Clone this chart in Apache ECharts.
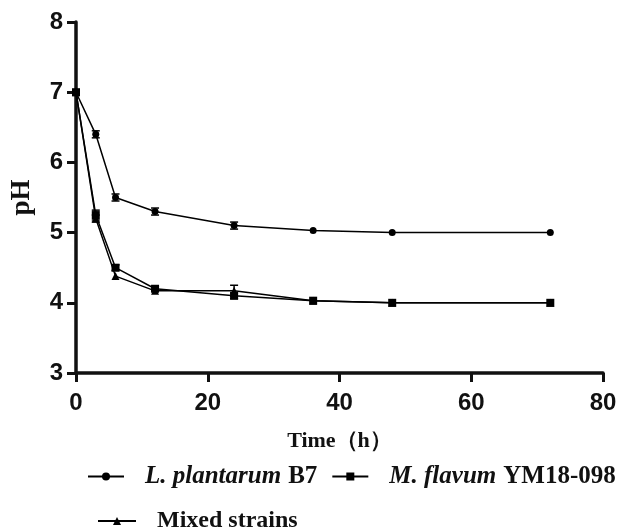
<!DOCTYPE html>
<html>
<head>
<meta charset="utf-8">
<script src="https://cdn.jsdelivr.net/npm/echarts@6/dist/echarts.min.js"></script>
<style>
  html, body { margin: 0; padding: 0; background: #fff; }
  #chart { width: 619px; height: 530px; }
</style>
</head>
<body>
<div id="chart"></div>
<script>
// sampling times (h)
const times = [0, 3, 6, 12, 24, 36, 48, 72]
// pH values
const plantarum = [7.0, 6.4, 5.5, 5.3, 5.1, 5.03, 5.0, 5.0]
const flavum = [7.0, 5.25, 4.5, 4.2, 4.1, 4.03, 4.0, 4.0]
const mixed = [7.0, 5.2, 4.38, 4.17, 4.17, 4.03, 4.0, 4.0]
// error bar half-widths
const plantarumErr = [0, 0.05, 0.05, 0.05, 0.05, 0, 0, 0]
const flavumErr = [0, 0.07, 0.04, 0.03, 0.04, 0, 0, 0]
const mixedErr = [0, 0.05, 0, 0, 0.08, 0, 0, 0]

const names = ['L. plantarum B7', 'M. flavum YM18-098', 'Mixed strains']

const pts = (ys) => times.map((t, i) => [t, ys[i]])
const errPts = (ys, es) => times.map((t, i) => [t, ys[i] - es[i], ys[i] + es[i]]).filter(d => d[2] > d[1])

const errSeries = (ys, es) => ({
  type: 'custom',
  silent: true,
  data: errPts(ys, es),
  renderItem: (params, api) => {
    const lo = api.coord([api.value(0), api.value(1)])
    const hi = api.coord([api.value(0), api.value(2)])
    const w = 4
    const st = { stroke: '#000', lineWidth: 1.5 }
    return {
      type: 'group',
      children: [
        { type: 'line', shape: { x1: lo[0], y1: lo[1], x2: hi[0], y2: hi[1] }, style: st },
        { type: 'line', shape: { x1: lo[0] - w, y1: lo[1], x2: lo[0] + w, y2: lo[1] }, style: st },
        { type: 'line', shape: { x1: hi[0] - w, y1: hi[1], x2: hi[0] + w, y2: hi[1] }, style: st }
      ]
    }
  },
  z: 3
})

const lineSeries = (name, ys, symbol, size) => ({
  name: name,
  type: 'line',
  data: pts(ys),
  symbol: symbol,
  symbolSize: size,
  showAllSymbol: true,
  itemStyle: { color: '#000' },
  lineStyle: { color: '#000', width: 1.5 },
  z: 4
})

const serif = 'Liberation Serif'
const legendRich = {
  i: { fontFamily: serif, fontStyle: 'italic', fontWeight: 'bold', fontSize: 25, color: '#111', padding: [0, 0, 0, 16] },
  n: { fontFamily: serif, fontWeight: 'bold', fontSize: 25, color: '#111', padding: [0, 0, 0, 7] },
  b: { fontFamily: serif, fontWeight: 'bold', fontSize: 24, color: '#111', padding: [0, 0, 0, 16] }
}

const chart = echarts.init(document.getElementById('chart'))
chart.setOption({
  animation: false,
  grid: { left: 76, right: 16, top: 22, bottom: 157, outerBoundsMode: 'none' },
  xAxis: {
    type: 'value',
    min: 0,
    max: 80,
    interval: 20,
    name: 'Time（h）',
    nameLocation: 'middle',
    nameGap: 57,
    nameTextStyle: { fontFamily: serif, fontWeight: 'bold', fontSize: 22, color: '#111' },
    axisLine: { lineStyle: { color: '#111', width: 3.5 } },
    axisTick: { show: true, length: 9, lineStyle: { color: '#111', width: 3 } },
    axisLabel: { fontFamily: 'Liberation Sans', fontWeight: 'bold', fontSize: 24, color: '#111', margin: 18 },
    splitLine: { show: false }
  },
  yAxis: {
    type: 'value',
    min: 3,
    max: 8,
    interval: 1,
    name: 'pH',
    nameLocation: 'middle',
    nameGap: 40,
    nameTextStyle: { fontFamily: serif, fontWeight: 'bold', fontSize: 27, color: '#111' },
    axisLine: { show: true, lineStyle: { color: '#111', width: 3.5 } },
    axisTick: { show: true, length: 9, lineStyle: { color: '#111', width: 3 } },
    axisLabel: { fontFamily: 'Liberation Sans', fontWeight: 'bold', fontSize: 24, color: '#111', margin: 13 },
    splitLine: { show: false }
  },
  legend: [
    {
      data: [names[0], names[1]],
      left: 87,
      top: 464,
      padding: 0,
      itemWidth: 36,
      itemHeight: 10,
      itemGap: 14,
      formatter: (n) => {
        const parts = n.split(' ')
        const tail = parts.pop()
        return '{i|' + parts.join(' ') + '}{n|' + tail + '}'
      },
      textStyle: { rich: legendRich }
    },
    {
      data: [names[2]],
      left: 97,
      top: 509,
      padding: 0,
      itemWidth: 38,
      itemHeight: 10,
      formatter: '{b|{name}}',
      textStyle: { rich: legendRich }
    }
  ],
  series: [
    lineSeries(names[0], plantarum, 'circle', 7),
    lineSeries(names[1], flavum, 'rect', 8),
    lineSeries(names[2], mixed, 'triangle', 8),
    errSeries(plantarum, plantarumErr),
    errSeries(flavum, flavumErr),
    errSeries(mixed, mixedErr)
  ]
})
</script>
</body>
</html>
